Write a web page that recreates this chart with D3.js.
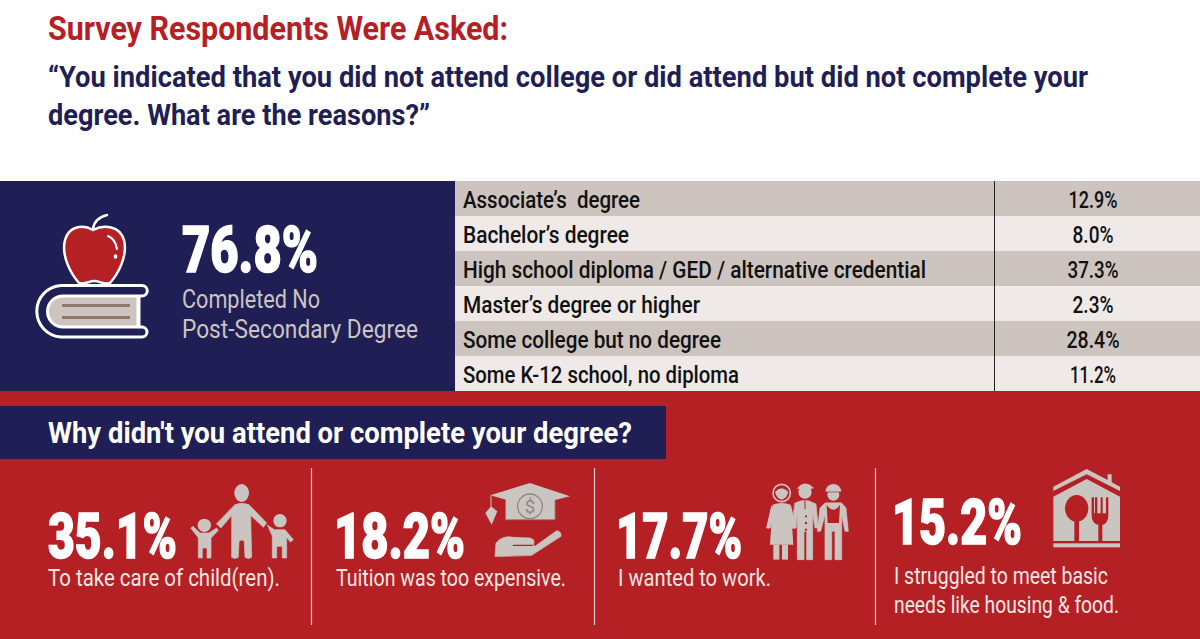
<!DOCTYPE html>
<html>
<head>
<meta charset="utf-8" />
<title>Survey respondents</title>
<script src="https://d3js.org/d3.v7.min.js"></script>
<style>
html, body { margin: 0; padding: 0; background: #fff; overflow: hidden; }
svg { display: block; }
text { font-family: "Roboto", "Noto Sans", sans-serif; }
</style>
</head>
<body>
<div id="viz"></div>
<script>
// data
var degreeLabels = ["Associate\u2019s  degree", "Bachelor\u2019s degree", "High school diploma / GED / alternative credential",
  "Master\u2019s degree or higher", "Some college but no degree", "Some K-12 school, no diploma"];
var degreeValues = [12.9, 8.0, 37.3, 2.3, 28.4, 11.2];
var reasonValues = [35.1, 18.2, 17.7, 15.2];
var reasonLabels = [["To take care of child(ren)."], ["Tuition was too expensive."], ["I wanted to work."],
  ["I struggled to meet basic", "needs like housing & food."]];
var headline = 76.8;
var headlineLabels = ["Completed No", "Post-Secondary Degree"];

var red = "#b52025", navy = "#1f1f55", grey = "#cbc5c2", rowDark = "#cdc4c0", rowLight = "#efeae8", line = "#8f8782";
var width = 1200, height = 639;
var fmt = function(v) { return v.toFixed(1) + "%"; };

var svg = d3.select("#viz").append("svg").attr("width", width).attr("height", height);

// text squeezed to the width it has in the picture
function label(g, str, x, y, w, size, weight, fill, thick) {
  return g.append("text").attr("x", x).attr("y", y)
    .attr("textLength", w).attr("lengthAdjust", "spacingAndGlyphs")
    .attr("font-size", size).attr("font-weight", weight).attr("fill", fill)
    .attr("stroke", thick ? fill : "none").attr("stroke-width", thick || 0)
    .attr("xml:space", "preserve").text(str);
}

// heading
label(svg, "Survey Respondents Were Asked:", 48, 40, 460, 33, 700, red);
label(svg, "\u201CYou indicated that you did not attend college or did attend but did not complete your", 48, 87, 1040, 30, 700, navy);
label(svg, "degree. What are the reasons?\u201D", 48, 125, 382, 30, 700, navy);

// panels
svg.append("rect").attr("x", 0).attr("y", 181).attr("width", 455).attr("height", 210).attr("fill", navy);
svg.append("rect").attr("x", 0).attr("y", 391).attr("width", width).attr("height", height - 391).attr("fill", red);
svg.append("rect").attr("x", 0).attr("y", 406).attr("width", 666).attr("height", 53).attr("fill", navy);

// degree table
var rowY = d3.scaleBand().domain(degreeLabels).range([181, 391]);
var labelWidths = [177, 166, 463, 237, 258, 276];
var valueWidths = [49, 41, 51, 41, 53, 46];
var rows = svg.append("g").selectAll("g").data(degreeLabels).enter().append("g");
rows.append("rect")
  .attr("x", 455).attr("y", function(d) { return rowY(d); })
  .attr("width", width - 455).attr("height", rowY.bandwidth())
  .attr("fill", function(d, i) { return i % 2 ? rowLight : rowDark; });
rows.each(function(d, i) {
  var g = d3.select(this), base = rowY(d) + 27;
  label(g, d, 463, base, labelWidths[i], 24, 500, "#111");
  label(g, fmt(degreeValues[i]), 1093 - valueWidths[i] / 2, base, valueWidths[i], 23, 500, "#111");
});
svg.append("line").attr("x1", 994.5).attr("x2", 994.5).attr("y1", 181).attr("y2", 391)
  .attr("stroke", "#222").attr("stroke-width", 1);

// headline number
label(svg, fmt(headline), 182, 272, 136, 65, 900, "#fff", 1.5);
label(svg, headlineLabels[0], 182, 308, 138, 25, 400, rowDark);
label(svg, headlineLabels[1], 182, 338, 236, 25, 400, rowDark);

// band title
label(svg, "Why didn't you attend or complete your degree?", 48, 443, 584, 29, 700, "#fff");

// reasons
var statX = [48, 334, 616, 892], statW = [129, 131, 126, 130], statBase = [558, 558, 558, 544];
var subX = [48, 336, 618, 894];
var subBase = [[586], [586], [586], [584, 613]], subW = [[232], [230], [153], [214, 225]];
reasonValues.forEach(function(v, i) {
  label(svg, fmt(v), statX[i], statBase[i], statW[i], 63, 900, "#fff", 1.5);
  reasonLabels[i].forEach(function(s, j) {
    label(svg, s, subX[i], subBase[i][j], subW[i][j], 24, 400, "#f3e6e3");
  });
});
[311.5, 594.5, 875.5].forEach(function(x) {
  svg.append("line").attr("x1", x).attr("x2", x).attr("y1", 468).attr("y2", 625)
    .attr("stroke", "#e6cfcd").attr("stroke-width", 1.2);
});

// --- icons ---
function shape(g, d, fill, stroke, sw) {
  return g.append("path").attr("d", d).attr("fill", fill || "none")
    .attr("stroke", stroke || "none").attr("stroke-width", sw || 0)
    .attr("stroke-linecap", "round").attr("stroke-linejoin", "round");
}
// icons are sketched on a grid three times finer than the page
function icon(x, y) {
  return svg.append("g").attr("transform", "translate(" + x + "," + y + ") scale(0.3333)");
}

// apple on a book
var book = svg.append("g").attr("transform", "translate(-1,0)");
shape(book, "M94,229C95,221 100,217 108,215", null, "#fff", 2.5);
shape(book, "M94,230C84,224 70,226 66,240C62,256 72,274 80,283C86,285 90,281 95,281C101,281 105,285 111,283C119,274 129,256 125,240C121,226 105,224 94,230Z", red, "#fff", 2.5);
shape(book, "M109,236C114,238 117,243 118,249", null, "#fff", 2);
shape(book, "M116.5,256L116.5,257", null, "#fff", 3.5);
shape(book, "M143,285.5H62A25.8,25.8 0 0 0 62,337H143A5,5 0 0 0 143,327H140V296H143A5,5 0 0 0 143,285.5Z", navy, "#fff", 3);
shape(book, "M139,296H64A15.5,15.5 0 0 0 64,327H139Z", rowDark, "#fff", 3);
book.append("rect").attr("x", 63).attr("y", 304).attr("width", 68).attr("height", 3).attr("fill", "#8a7a6e");
book.append("rect").attr("x", 63).attr("y", 316).attr("width", 68).attr("height", 3).attr("fill", "#8a7a6e");

// parent with two children
var family = icon(185, 478);
family.append("ellipse").attr("cx", 170).attr("cy", 45).attr("rx", 22).attr("ry", 27).attr("fill", grey);
shape(family, "M150,80Q170,72 192,80L245,135L235,148L197,112L200,238Q190,245 180,238L178,190Q170,182 162,190L160,238Q150,245 140,238L140,112L108,150L95,138Z", grey, grey, 2);
family.append("circle").attr("cx", 58).attr("cy", 142).attr("r", 20).attr("fill", grey);
shape(family, "M18,150L24,145L45,165H72L95,150L100,157L78,180V240H66V210H52V240H40V180Z", grey, grey, 2);
family.append("circle").attr("cx", 285).attr("cy", 128).attr("r", 20).attr("fill", grey);
shape(family, "M248,142L268,155H300L325,185L316,192L305,178V240H292V205H275V240H262V175Z", grey, grey, 2);

// graduation cap over a hand
var cap = icon(480, 478);
shape(cap, "M78,60H225V125H78Z", grey, line, 3);
shape(cap, "M150,15L270,55L150,85L30,52Z", grey);
shape(cap, "M33,55V85", null, grey, 3);
shape(cap, "M33,85L52,100L35,140L16,105Z", grey);
cap.append("circle").attr("cx", 150).attr("cy", 85).attr("r", 37).attr("fill", grey).attr("stroke", line).attr("stroke-width", 4);
cap.append("text").attr("x", 150).attr("y", 105).attr("text-anchor", "middle").attr("font-size", 56).attr("fill", line).text("$");
shape(cap, "M45,235L48,195Q70,170 100,178L150,180Q168,185 160,200L165,205L230,158Q245,160 243,175L155,232Z", grey, grey, 2);
shape(cap, "M100,202H158", null, red, 4);

// three workers
var workers = icon(760, 478);
workers.append("circle").attr("cx", 65).attr("cy", 45).attr("r", 26).attr("fill", red).attr("stroke", grey).attr("stroke-width", 5);
shape(workers, "M45,42Q65,20 85,42Q80,62 65,65Q50,62 45,42Z", grey);
shape(workers, "M38,80Q65,70 92,80L100,200H30Z", grey);
shape(workers, "M35,85L20,150H30L42,105Z", grey, grey, 3);
shape(workers, "M92,85L108,150H96L85,105Z", grey, grey, 3);
workers.append("rect").attr("x", 40).attr("y", 200).attr("width", 18).attr("height", 45).attr("fill", grey);
workers.append("rect").attr("x", 66).attr("y", 200).attr("width", 18).attr("height", 45).attr("fill", grey);

workers.append("circle").attr("cx", 135).attr("cy", 42).attr("r", 20).attr("fill", grey);
shape(workers, "M113,30Q135,5 160,30L135,36Z", grey, grey, 2);
shape(workers, "M105,75L125,68H145L168,78L175,150H165L158,105V245H140V160H132V245H112V105L108,150H95Z", grey, grey, 2);
shape(workers, "M135,70V92", null, red, 3);
[115, 135, 155].forEach(function(y) {
  workers.append("circle").attr("cx", 138).attr("cy", y).attr("r", 3.5).attr("fill", red);
});

workers.append("circle").attr("cx", 220).attr("cy", 50).attr("r", 18).attr("fill", grey);
shape(workers, "M195,42A25,25 0 0 1 245,42H195Z", grey, red, 2);
shape(workers, "M195,75L180,90L172,160H182L195,110V245H215V160H225V245H245V110L255,160H265L258,90L245,75Z", grey, grey, 2);
shape(workers, "M200,80Q220,110 240,80L237,135H203Z", red);

// house with spoon and fork
var house = icon(1045, 465);
shape(house, "M25,65L125,12L188,45V28H200V52L225,65V78L125,28L25,78Z", grey);
shape(house, "M25,95L125,42L225,95V228H25Z", grey);
house.append("rect").attr("x", 25).attr("y", 235).attr("width", 200).attr("height", 12).attr("fill", grey);
house.append("ellipse").attr("cx", 95).attr("cy", 130).attr("rx", 35).attr("ry", 40).attr("fill", red);
house.append("rect").attr("x", 88).attr("y", 165).attr("width", 14).attr("height", 65).attr("fill", red);
shape(house, "M140,97V150Q140,175 160,180V230H172V180Q190,175 190,150V97H183V145H173V97H167V145H157V97H150V145H147V97Z", red);
</script>
</body>
</html>
